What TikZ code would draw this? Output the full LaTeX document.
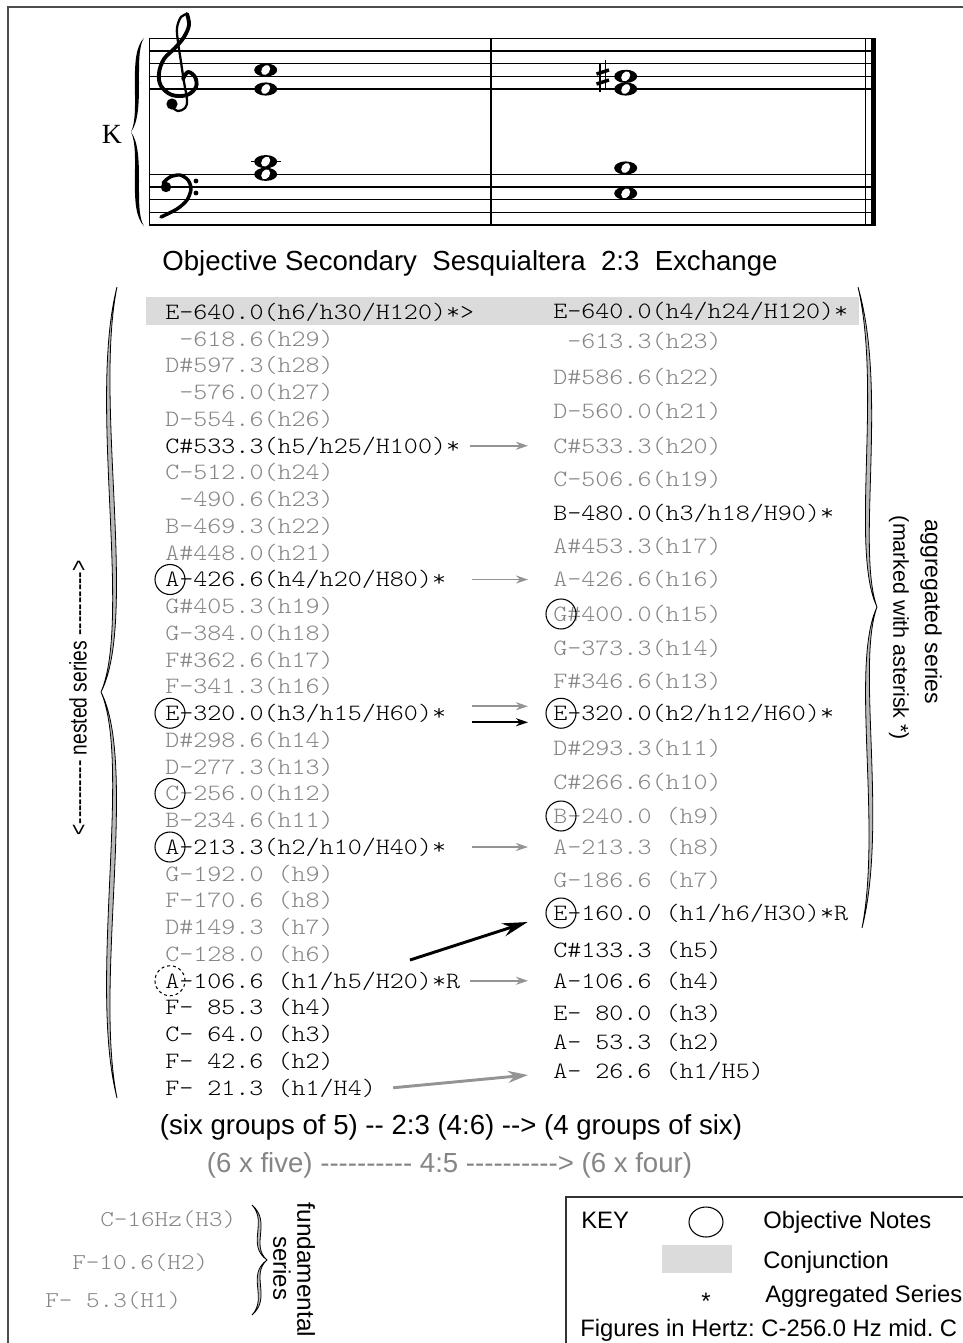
\documentclass[tikz,border=0pt]{standalone}
\usepackage{fontspec}
\setmainfont{Liberation Sans}
\setmonofont{lmmonolt10-regular.otf}[FakeStretch=1.143]
\newfontfamily\nameserif{Liberation Serif}
\newfontfamily\narrowsans{Liberation Sans}[FakeStretch=0.8]
\usetikzlibrary{arrows.meta}
\colorlet{dimtext}{black!48}
\colorlet{arrowgray}{black!42}
\colorlet{bandgray}{black!14}
\colorlet{bracegray}{black!27}
\newcommand\rowfont{\ttfamily\fontsize{17.55pt}{20pt}\selectfont}
\newcommand\capfont{\fontsize{20.7pt}{24pt}\selectfont}
\newcommand\keyfont{\fontsize{17.85pt}{21pt}\selectfont}
\newcommand\hy{-\kern0pt}
\newcommand\tenhy{\hy\hy\hy\hy\hy\hy\hy\hy\hy\hy}
\newcommand\wholenote[2]{%
  \fill (#1,#2) ellipse (11.5 and 6.6);
  \fill[white,rotate around={-35:(#1,#2)}] (#1,#2) ellipse (4 and 5.4);}
\frenchspacing
\begin{document}
\begin{tikzpicture}[x=0.75pt,y=-0.75pt,
freq/.style={font=\rowfont,anchor=west,inner sep=0pt,text height=11pt,text depth=0pt},
dimrow/.style={freq,text=dimtext},
ring/.style={draw,line width=0.8pt},
dashring/.style={ring,dash pattern=on 2.2pt off 2.2pt},
grayarr/.style={-{Stealth[length=9pt,width=6pt]},draw=arrowgray,line width=1.3pt},
blackarr/.style={grayarr,draw=black},
bigarr/.style={-{Stealth[length=19pt,width=10pt]},line width=2.2pt},
bracefill/.style={fill=bracegray,draw=black,line width=0.6pt},
staffline/.style={line width=0.95pt},
captxt/.style={font=\capfont,inner sep=0pt},
keytxt/.style={font=\keyfont,anchor=base west,inner sep=0pt}]
\useasboundingbox (0,0) rectangle (963,1343);
% frame
\draw[black!70,line width=1.1pt] (963,7) -- (8,7) -- (8,1343);
% staves
\draw[staffline] (149,38.4) -- (876,38.4) (149,51.05) -- (876,51.05) (149,63.7) -- (876,63.7)
  (149,76.35) -- (876,76.35) (149,89) -- (876,89);
\draw[staffline] (149,174.3) -- (876,174.3) (149,186.95) -- (876,186.95) (149,199.6) -- (876,199.6)
  (149,212.25) -- (876,212.25) (149,224.9) -- (876,224.9);
\draw[line width=1.2pt] (149.5,38.4) -- (149.5,224.9);
\draw[line width=0.95pt] (491,38.4) -- (491,224.9);
\draw[line width=0.95pt] (865.5,38.4) -- (865.5,224.9);
\draw[line width=3.4pt] (873.5,38.4) -- (873.5,224.9);
% system brace and name
\fill (144,38) .. controls (127,54) and (141,112) .. (131,132) .. controls (141,152) and (127,210) .. (144,226)
  .. controls (133,210) and (146,152) .. (131,132) .. controls (146,112) and (133,54) .. (144,38) -- cycle;
\node[font=\nameserif\fontsize{20.8pt}{24pt}\selectfont] (kname) at (112,134) {K};
% treble clef
\draw[line width=2.9pt,line cap=round,line join=round] plot[smooth,tension=0.6] coordinates {(183,79) (188,72)
  (195,77) (196,87) (187,95) (172,95) (161,86) (159,73) (164,59) (175,48) (184,37) (189,25) (187,14)};
\draw[line width=1.7pt,line cap=round,line join=round] plot[smooth,tension=0.6] coordinates {(187,14) (181,17)
  (177,28) (178,42) (181,62) (184,82) (187,100) (185,108) (178,111) (172,107)};
\fill (172,104) circle[radius=4.2pt];
% bass clef
\fill (166,187) circle[radius=3.9pt];
\draw[line width=2.6pt,line cap=round] plot[smooth] coordinates {(163,183) (170,177) (180,175) (188,180) (191,189)
  (187,200) (177,209) (161,217)};
\fill (196,181) circle[radius=1.8pt] (196,193) circle[radius=1.8pt];
% notes
\draw[staffline] (251,161.65) -- (281,161.65);
\wholenote{265.7}{70}
\wholenote{265.7}{89}
\wholenote{265.7}{161.65}
\wholenote{265.7}{174.3}
\wholenote{625.7}{76.35}
\wholenote{625.7}{89}
\wholenote{625.7}{168}
\wholenote{625.7}{193.3}
\draw[line width=1pt] (600,63) -- (600,92) (605.5,60) -- (605.5,89);
\draw[line width=2.6pt] (596.5,74) -- (609,70) (596.5,84) -- (609,80);
% title
\node[captxt] (title) at (470,263) {Objective Secondary\ \ Sesquialtera\ \ 2:3\ \ Exchange};
% conjunction band
\fill[bandgray] (146,297) rectangle (859,325);
% nested series (left)
\node[freq] (l30) at (165,312) {E-640.0(h6/h30/H120)*>};
\node[dimrow] (l29) at (165,338.75) {\ -618.6(h29)};
\node[dimrow] (l28) at (165,365.5) {D\#597.3(h28)};
\node[dimrow] (l27) at (165,392.25) {\ -576.0(h27)};
\node[dimrow] (l26) at (165,419) {D-554.6(h26)};
\node[freq] (l25) at (165,445.75) {C\#533.3(h5/h25/H100)*};
\node[dimrow] (l24) at (165,472.5) {C-512.0(h24)};
\node[dimrow] (l23) at (165,499.25) {\ -490.6(h23)};
\node[dimrow] (l22) at (165,526) {B-469.3(h22)};
\node[dimrow] (l21) at (165,552.75) {A\#448.0(h21)};
\node[freq] (l20) at (165,579.5) {A-426.6(h4/h20/H80)*};
\node[dimrow] (l19) at (165,606.25) {G\#405.3(h19)};
\node[dimrow] (l18) at (165,633) {G-384.0(h18)};
\node[dimrow] (l17) at (165,659.75) {F\#362.6(h17)};
\node[dimrow] (l16) at (165,686.5) {F-341.3(h16)};
\node[freq] (l15) at (165,713.25) {E-320.0(h3/h15/H60)*};
\node[dimrow] (l14) at (165,740) {D\#298.6(h14)};
\node[dimrow] (l13) at (165,766.75) {D-277.3(h13)};
\node[dimrow] (l12) at (165,793.5) {C-256.0(h12)};
\node[dimrow] (l11) at (165,820.25) {B-234.6(h11)};
\node[freq] (l10) at (165,847) {A-213.3(h2/h10/H40)*};
\node[dimrow] (l9) at (165,873.75) {G-192.0 (h9)};
\node[dimrow] (l8) at (165,900.5) {F-170.6 (h8)};
\node[dimrow] (l7) at (165,927.25) {D\#149.3 (h7)};
\node[dimrow] (l6) at (165,954) {C-128.0 (h6)};
\node[freq] (l5) at (165,980.75) {A-106.6 (h1/h5/H20)*R};
\node[freq] (l4) at (165,1007.5) {F- 85.3 (h4)};
\node[freq] (l3) at (165,1034.25) {C- 64.0 (h3)};
\node[freq] (l2) at (165,1061) {F- 42.6 (h2)};
\node[freq] (l1) at (165,1087.75) {F- 21.3 (h1/H4)};
% aggregated series (right)
\node[freq] (r24) at (553,311) {E-640.0(h4/h24/H120)*};
\node[dimrow] (r23) at (553,341) {\ -613.3(h23)};
\node[dimrow] (r22) at (553,377) {D\#586.6(h22)};
\node[dimrow] (r21) at (553,411) {D-560.0(h21)};
\node[dimrow] (r20) at (553,445.75) {C\#533.3(h20)};
\node[dimrow] (r19) at (553,479) {C-506.6(h19)};
\node[freq] (r18) at (553,513) {B-480.0(h3/h18/H90)*};
\node[dimrow] (r17) at (553,546) {A\#453.3(h17)};
\node[dimrow] (r16) at (553,579.5) {A-426.6(h16)};
\node[dimrow] (r15) at (553,614) {G\#400.0(h15)};
\node[dimrow] (r14) at (553,648) {G-373.3(h14)};
\node[dimrow] (r13) at (553,681) {F\#346.6(h13)};
\node[freq] (r12) at (553,713.25) {E-320.0(h2/h12/H60)*};
\node[dimrow] (r11) at (553,748) {D\#293.3(h11)};
\node[dimrow] (r10) at (553,782) {C\#266.6(h10)};
\node[dimrow] (r9) at (553,816) {B-240.0 (h9)};
\node[dimrow] (r8) at (553,847) {A-213.3 (h8)};
\node[dimrow] (r7) at (553,880) {G-186.6 (h7)};
\node[freq] (r6) at (553,913) {E-160.0 (h1/h6/H30)*R};
\node[freq] (r5) at (553,950) {C\#133.3 (h5)};
\node[freq] (r4) at (553,980.75) {A-106.6 (h4)};
\node[freq] (r3) at (553,1013) {E- 80.0 (h3)};
\node[freq] (r2) at (553,1042) {A- 53.3 (h2)};
\node[freq] (r1) at (553,1071) {A- 26.6 (h1/H5)};
% objective notes
\draw[ring] ([xshift=3.75pt]l20.west) circle[radius=11.25pt];
\draw[ring] ([xshift=3.75pt]l15.west) circle[radius=11.25pt];
\draw[ring] ([xshift=3.75pt]l12.west) circle[radius=11.25pt];
\draw[ring] ([xshift=3.75pt]l10.west) circle[radius=11.25pt];
\draw[dashring] ([xshift=3.75pt]l5.west) circle[radius=11.25pt];
\draw[ring] ([xshift=6pt]r15.west) circle[radius=11.25pt];
\draw[ring] ([xshift=6pt]r12.west) circle[radius=11.25pt];
\draw[ring] ([xshift=6pt]r9.west) circle[radius=11.25pt];
\draw[ring] ([xshift=6pt]r6.west) circle[radius=11.25pt];
% exchange arrows
\draw[grayarr] ([xshift=7.5pt]l25.east) -- ([xshift=-18.75pt]r20.west);
\draw[grayarr] ([xshift=19.5pt]l20.east) -- ([xshift=-18.75pt]r16.west);
\draw[grayarr] ([xshift=19.5pt,yshift=5.25pt]l15.east) -- ([xshift=-18.75pt,yshift=5.25pt]r12.west);
\draw[blackarr] ([xshift=19.5pt,yshift=-6.75pt]l15.east) -- ([xshift=-18.75pt,yshift=-6.75pt]r12.west);
\draw[grayarr] ([xshift=19.5pt]l10.east) -- ([xshift=-18.75pt]r8.west);
\draw[grayarr] ([xshift=7.5pt]l5.east) -- ([xshift=-18.75pt]r4.west);
\draw[grayarr,line width=2.2pt,-{Stealth[length=15pt,width=9pt]}] ([xshift=12.75pt]l1.east) -- ([xshift=-18.75pt,yshift=-3pt]r1.west);
\coordinate (kick) at (410,960);
\draw[bigarr] (kick) -- ([xshift=-19pt,yshift=-6.75pt]r6.west);
% braces
\filldraw[bracefill] (117,287) .. controls (88,400) and (132,620) .. (101,692) .. controls (132,764) and (88,984) .. (117,1098)
  .. controls (94,984) and (138,764) .. (101,692) .. controls (138,620) and (94,400) .. (117,287) -- cycle;
\filldraw[bracefill] (858,287) .. controls (888,390) and (856,550) .. (877,607) .. controls (856,664) and (888,825) .. (862,928)
  .. controls (882,825) and (850,664) .. (877,607) .. controls (850,550) and (882,390) .. (858,287) -- cycle;
\node[font=\narrowsans\fontsize{18pt}{21pt}\selectfont,rotate=90] (nested) at (78,698) {<\tenhy{} nested series \tenhy>};
\node[font=\fontsize{17.3pt}{20pt}\selectfont,rotate=-90] (aggr) at (931,612) {aggregated series};
\node[font=\fontsize{16.1pt}{19pt}\selectfont,rotate=-90] (aggrnote) at (899,628) {(marked with asterisk *)};
% ratio captions
\node[captxt] (groups) at (451,1127) {(six groups of 5) \hy- 2:3 (4:6) \hy-> (4 groups of six)};
\node[captxt,text=dimtext] (fives) at (449.5,1165) {(6 x five) \tenhy{} 4:5 \tenhy> (6 x four)};
% fundamental series
\node[dimrow,font=\ttfamily\fontsize{17pt}{20pt}\selectfont] (f3) at (100,1219) {C-16Hz(H3)};
\node[dimrow,font=\ttfamily\fontsize{17pt}{20pt}\selectfont] (f2) at (72,1262) {F-10.6(H2)};
\node[dimrow,font=\ttfamily\fontsize{17pt}{20pt}\selectfont] (f1) at (45,1300) {F- 5.3(H1)};
\filldraw[bracefill] (252,1205) .. controls (272,1222) and (250,1245) .. (267,1260) .. controls (250,1275) and (272,1298) .. (252,1315)
  .. controls (268,1298) and (246,1275) .. (267,1260) .. controls (246,1245) and (268,1222) .. (252,1205) -- cycle;
\node[font=\fontsize{18.3pt}{21pt}\selectfont,rotate=-90] (fund) at (306,1270) {fundamental};
\node[font=\fontsize{18pt}{21pt}\selectfont,rotate=-90] (fundser) at (282,1268) {series};
% key
\draw[black!80,line width=1.1pt] (963,1197) -- (566,1197) -- (566,1343);
\node[keytxt] (keyhead) at (581,1228.5) {KEY};
\draw[ring] (706,1222) ellipse [x radius=12.75pt,y radius=11.25pt];
\node[keytxt] (keyobj) at (763,1228.5) {Objective Notes};
\fill[bandgray] (662,1245) rectangle (732,1273);
\node[keytxt] (keyconj) at (763,1268.5) {Conjunction};
\node[font=\keyfont,anchor=base,inner sep=0pt] (keystar) at (706,1309) {*};
\node[keytxt] (keyagg) at (765,1302.5) {Aggregated Series};
\node[keytxt] (keyhz) at (580,1336.5) {Figures in Hertz: C-256.0 Hz mid. C};
\end{tikzpicture}
\end{document}
